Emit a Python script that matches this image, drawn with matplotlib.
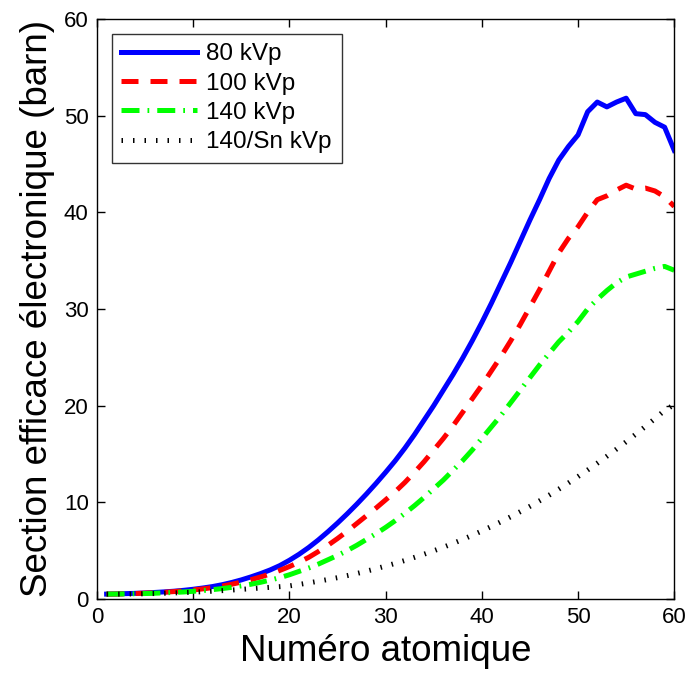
# section efficace electronique vs numero atomique
import numpy as np
import matplotlib
matplotlib.use("Agg")
import matplotlib.pyplot as plt

plt.rcParams['font.family'] = ['Liberation Sans', 'DejaVu Sans']

# numero atomique
Z = np.arange(1, 61)

# 80 kVp
s80 = [0.50, 0.52, 0.55, 0.58, 0.62, 0.67, 0.73, 0.80, 0.89, 1.00,
       1.13, 1.28, 1.47, 1.70, 1.97, 2.28, 2.62, 3.00, 3.45, 4.00,
       4.62, 5.32, 6.10, 6.95, 7.85, 8.80, 9.80, 10.85, 11.95, 13.10,
       14.30, 15.60, 17.00, 18.50, 20.00, 21.60, 23.20, 24.90, 26.70, 28.60,
       30.60, 32.70, 34.80, 37.00, 39.20, 41.30, 43.50, 45.40, 46.80, 48.00,
       50.40, 51.40, 50.90, 51.40, 51.80, 50.20, 50.10, 49.30, 48.80, 46.40]

# 100 kVp
s100 = [0.50, 0.51, 0.53, 0.56, 0.60, 0.64, 0.69, 0.76, 0.84, 0.93,
        1.04, 1.17, 1.33, 1.52, 1.74, 1.99, 2.27, 2.58, 2.95, 3.35,
        3.80, 4.30, 4.90, 5.55, 6.25, 7.00, 7.80, 8.60, 9.40, 10.25,
        11.10, 12.05, 13.10, 14.20, 15.40, 16.60, 17.90, 19.30, 20.70, 22.10,
        23.60, 25.10, 26.70, 28.40, 30.20, 32.00, 33.90, 35.80, 37.30, 38.50,
        40.00, 41.30, 41.70, 42.30, 42.80, 42.40, 42.50, 42.20, 41.60, 40.60]

# 140 kVp
s140 = [0.50, 0.51, 0.52, 0.54, 0.56, 0.59, 0.63, 0.67, 0.72, 0.79,
        0.87, 0.96, 1.07, 1.20, 1.35, 1.52, 1.72, 1.95, 2.20, 2.50,
        2.85, 3.20, 3.60, 4.05, 4.50, 5.00, 5.55, 6.15, 6.75, 7.40,
        8.10, 8.85, 9.65, 10.50, 11.40, 12.30, 13.30, 14.30, 15.40, 16.60,
        17.80, 19.00, 20.30, 21.60, 22.90, 24.20, 25.40, 26.60, 27.60, 28.70,
        30.00, 31.00, 31.90, 32.70, 33.30, 33.60, 33.90, 34.20, 34.40, 34.00]

# 140/Sn kVp
s140sn = [0.50, 0.50, 0.51, 0.52, 0.54, 0.56, 0.59, 0.62, 0.66, 0.70,
          0.75, 0.80, 0.86, 0.92, 0.99, 1.06, 1.13, 1.20, 1.27, 1.35,
          1.50, 1.66, 1.83, 2.01, 2.20, 2.41, 2.63, 2.87, 3.13, 3.40,
          3.68, 3.98, 4.30, 4.63, 4.98, 5.35, 5.74, 6.15, 6.58, 7.03,
          7.50, 7.99, 8.50, 9.03, 9.58, 10.15, 10.74, 11.36, 12.00, 12.66,
          13.34, 14.04, 14.76, 15.50, 16.26, 17.04, 17.84, 18.66, 19.50, 20.10]

labels = ['80 kVp', '100 kVp', '140 kVp', '140/Sn kVp']


def main():
    fig = plt.figure(figsize=(6.88, 6.76), dpi=100)
    ax = fig.add_axes([0.141, 0.114, 0.839, 0.858])

    lw = 3.6
    ax.plot(Z, s80, color='#0000ff', lw=lw, ls='-', label=labels[0])
    ax.plot(Z, s100, color='#ff0000', lw=lw, ls=(0, (3.4, 2.4)), label=labels[1])
    ax.plot(Z, s140, color='#00ff00', lw=lw, ls=(0, (3.6, 1.6, 0.35, 1.6)), label=labels[2])
    ax.plot(Z, s140sn, color='k', lw=lw, ls=(0, (0.3, 2.0)), label=labels[3])

    ax.set_xlim(0, 60)
    ax.set_ylim(0, 60)
    ax.set_xticks(np.arange(0, 61, 10))
    ax.set_yticks(np.arange(0, 61, 10))
    ax.tick_params(direction='in', top=True, right=True, length=6,
                   width=1, labelsize=16, pad=6)
    for sp in ax.spines.values():
        sp.set_linewidth(1)

    ax.set_xlabel('Numéro atomique', fontsize=26.5, labelpad=4)
    ax.set_ylabel('Section efficace électronique (barn)', fontsize=26.5, labelpad=6)

    leg = ax.legend(loc='upper left', fontsize=17.5, frameon=True, fancybox=False,
                    edgecolor='k', handlelength=3.1, handletextpad=0.4,
                    borderpad=0.4, labelspacing=0.3, borderaxespad=0.6)
    leg.get_frame().set_linewidth(1)

    fig.savefig('out.png', dpi=100)


if __name__ == "__main__":
    main()
